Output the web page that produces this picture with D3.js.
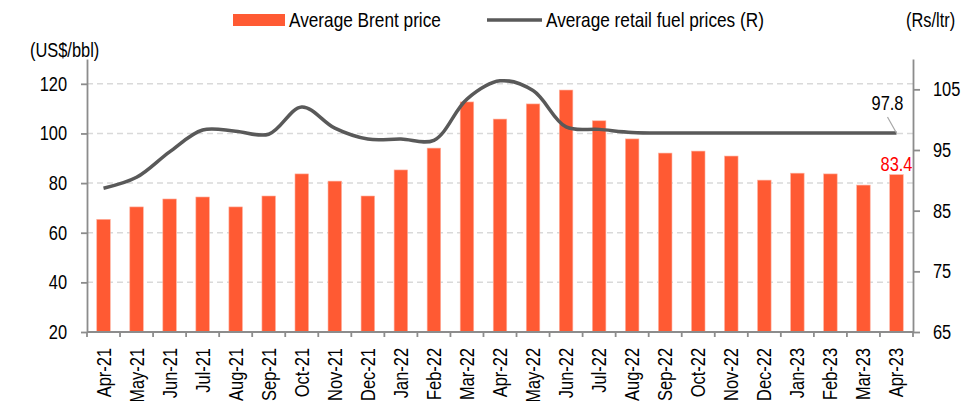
<!DOCTYPE html>
<html>
<head>
<meta charset="utf-8">
<script src="https://cdn.jsdelivr.net/npm/d3@7"></script>
<style>
  body { margin: 0; background: #fff; }
  text { font-family: "Liberation Sans", Arial, sans-serif; fill: #000; }
</style>
</head>
<body>
<svg id="chart" width="980" height="401"></svg>
<script>
const months = ["Apr-21","May-21","Jun-21","Jul-21","Aug-21","Sep-21","Oct-21","Nov-21","Dec-21",
  "Jan-22","Feb-22","Mar-22","Apr-22","May-22","Jun-22","Jul-22","Aug-22","Sep-22","Oct-22",
  "Nov-22","Dec-22","Jan-23","Feb-23","Mar-23","Apr-23"];
// Average Brent price (US$/bbl)
const brent = [65.4, 70.4, 73.6, 74.4, 70.4, 74.8, 83.7, 80.8, 74.8, 85.3, 94.1, 112.7, 105.8,
  111.9, 117.5, 105.1, 97.8, 92.1, 92.9, 90.9, 81.2, 84.0, 83.7, 79.2, 83.4];
// Average retail fuel prices (Rs/ltr)
const retail = [88.7, 90.5, 94.7, 98.3, 98.1, 97.6, 102.1, 98.6, 96.8, 96.8, 96.6, 103.4, 106.4,
  104.8, 98.8, 98.4, 97.9, 97.8, 97.8, 97.8, 97.8, 97.8, 97.8, 97.8, 97.8];
const leftTicks = [20, 40, 60, 80, 100, 120];
const rightTicks = [65, 75, 85, 95, 105];

const svg = d3.select("#chart");
const plot = { left: 87, right: 913, top: 59, bottom: 332 };

const x = d3.scaleBand().domain(months).range([plot.left, plot.right]).padding(0);
const yL = d3.scaleLinear().domain([20, 130]).range([plot.bottom, plot.top]);
const yR = d3.scaleLinear().domain([65, 110]).range([plot.bottom, plot.top]);

// gridlines
svg.append("g").selectAll("line")
  .data(leftTicks.filter(d => d > 20))
  .join("line")
  .attr("x1", plot.left).attr("x2", plot.right)
  .attr("y1", d => yL(d)).attr("y2", d => yL(d))
  .attr("stroke", "#d9d9d9").attr("stroke-width", 1.5)
  .attr("stroke-dasharray", "6,4");

// bars
const barW = x.bandwidth() * 0.41;
svg.append("g").selectAll("rect")
  .data(brent)
  .join("rect")
  .attr("x", (d, i) => x(months[i]) + (x.bandwidth() - barW) / 2)
  .attr("y", d => yL(d))
  .attr("width", barW)
  .attr("height", d => yL(20) - yL(d))
  .attr("fill", "#ff5a33")
  .attr("stroke", "#ffb3a1")
  .attr("stroke-width", 0.6);

// line
const line = d3.line()
  .x((d, i) => x(months[i]) + x.bandwidth() / 2)
  .y(d => yR(d))
  .curve(d3.curveCatmullRom.alpha(0.5));
svg.append("path")
  .datum(retail)
  .attr("d", line)
  .attr("fill", "none")
  .attr("stroke", "#595959")
  .attr("stroke-width", 3.5)
  .attr("stroke-linejoin", "round");

// axes
const axisColor = "#8c8c8c";
function styleAxis(g) {
  g.selectAll(".domain").attr("stroke", axisColor).attr("stroke-width", 1.8);
  g.selectAll(".tick line").attr("stroke", axisColor).attr("stroke-width", 1.8);
  g.selectAll(".tick text").attr("font-size", 20)
    .attr("font-family", "\"Liberation Sans\", Arial, sans-serif").attr("fill", "#000");
}

const gL = svg.append("g")
  .attr("transform", `translate(${plot.left},0)`)
  .call(d3.axisLeft(yL).tickValues(leftTicks).tickSize(6).tickPadding(14).tickSizeOuter(0));
styleAxis(gL);

const gR = svg.append("g")
  .attr("transform", `translate(${plot.right},0)`)
  .call(d3.axisRight(yR).tickValues(rightTicks).tickSize(7).tickPadding(13).tickSizeOuter(0));
styleAxis(gR);

// x axis: ticks at band edges
const gX = svg.append("g").attr("transform", `translate(0,${plot.bottom})`);
gX.append("line")
  .attr("x1", plot.left).attr("x2", plot.right)
  .attr("stroke", axisColor).attr("stroke-width", 1.8);
gX.selectAll(".edge")
  .data(d3.range(months.length + 1))
  .join("line")
  .attr("class", "edge")
  .attr("x1", i => plot.left + i * x.bandwidth())
  .attr("x2", i => plot.left + i * x.bandwidth())
  .attr("y1", 0).attr("y2", 5)
  .attr("stroke", axisColor).attr("stroke-width", 1.8);
gX.selectAll(".lbl")
  .data(months)
  .join("text")
  .attr("class", "lbl")
  .attr("transform", d => `translate(${x(d) + x.bandwidth() / 2 + 7},16) rotate(-90)`)
  .attr("text-anchor", "end")
  .attr("font-size", 20)
  .text(d => d);

// axis titles
svg.append("text").attr("x", 30).attr("y", 57).attr("font-size", 20).text("(US$/bbl)");
svg.append("text").attr("x", 906).attr("y", 27).attr("font-size", 20).text("(Rs/ltr)");

// legend
svg.append("rect").attr("x", 233).attr("y", 14).attr("width", 52).attr("height", 12).attr("fill", "#ff5a33");
svg.append("text").attr("x", 289).attr("y", 27).attr("font-size", 21).text("Average Brent price");
svg.append("line").attr("x1", 487).attr("x2", 542).attr("y1", 20).attr("y2", 20)
  .attr("stroke", "#595959").attr("stroke-width", 3.5);
svg.append("text").attr("x", 546).attr("y", 27).attr("font-size", 21).text("Average retail fuel prices (R)");

// data labels
const lastX = x(months[months.length - 1]) + x.bandwidth() / 2;
const lastRetail = retail[retail.length - 1];
const lastBrent = brent[brent.length - 1];
svg.append("line")
  .attr("x1", lastX - 9).attr("y1", yR(lastRetail) - 16)
  .attr("x2", lastX).attr("y2", yR(lastRetail))
  .attr("stroke", "#a6a6a6").attr("stroke-width", 1.2);
svg.append("text")
  .attr("x", lastX - 9).attr("y", yR(lastRetail) - 23)
  .attr("text-anchor", "middle").attr("font-size", 20)
  .text(d3.format(".1f")(lastRetail));
svg.append("text")
  .attr("x", lastX).attr("y", yL(lastBrent) - 4)
  .attr("text-anchor", "middle").attr("font-size", 20)
  .style("fill", "#ff0000")
  .text(d3.format(".1f")(lastBrent));

// the reference uses a narrow face: squeeze every text to ~82% of its width
svg.selectAll("text").each(function () {
  const w = this.getComputedTextLength();
  d3.select(this).attr("textLength", w * 0.82).attr("lengthAdjust", "spacingAndGlyphs");
});
</script>
</body>
</html>
